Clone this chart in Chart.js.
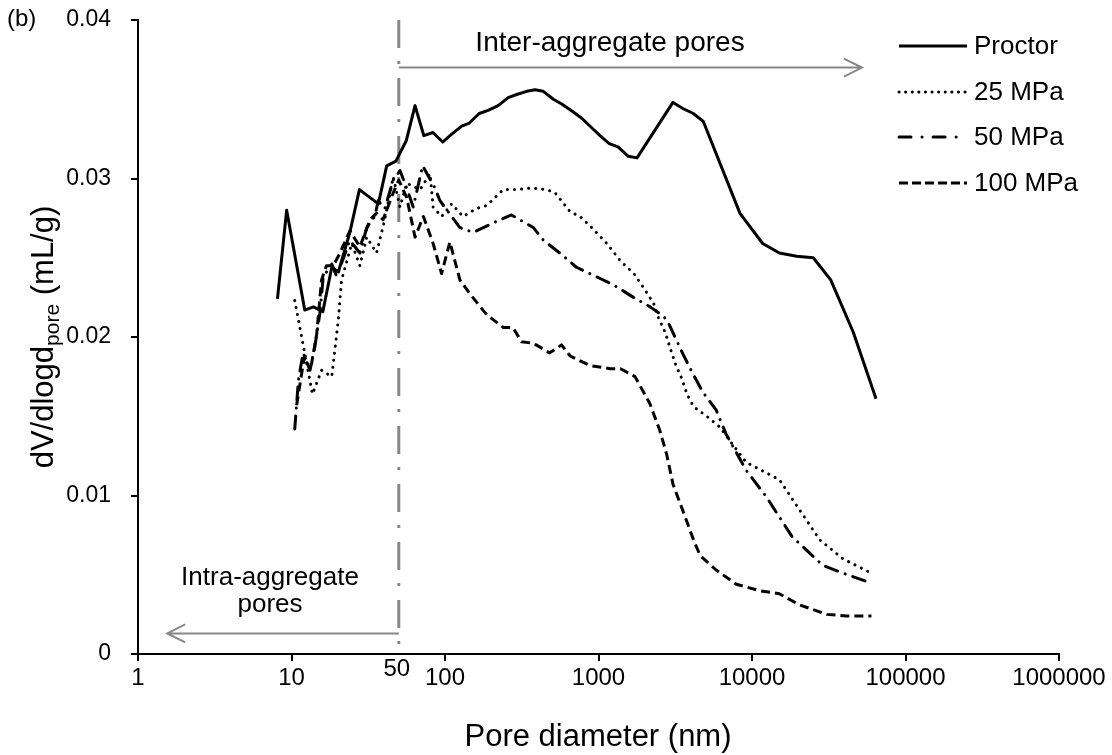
<!DOCTYPE html>
<html>
<head>
<meta charset="utf-8">
<script src="https://cdn.jsdelivr.net/npm/chart.js@4.4.1/dist/chart.umd.min.js"></script>
<style>
  body { margin: 0; background: #fff; }
  #wrap { width: 1112px; height: 755px; }
</style>
</head>
<body>
<div id="wrap"><canvas id="poreChart" width="1112" height="755"></canvas></div>
<script>
const seriesNames = ['Proctor', '25 MPa', '50 MPa', '100 MPa'];

const proctorX = [8.1, 9.3, 12.2, 13.9, 16.0, 18.3, 20.2, 24.0, 27.7, 36.8, 41.7, 47.9, 56.0, 63.8, 72.8, 83.5, 96.6, 110.6, 128.5, 144, 167, 191, 222, 258, 293, 341, 386, 437, 508, 576, 685, 778, 903, 1023, 1175, 1340, 1564, 1782, 3055, 3568, 4145, 4818, 8350, 11740, 15070, 19550, 25070, 32570, 45700, 64270];
const proctorY = [0.0224, 0.0280, 0.0217, 0.0219, 0.0216, 0.0244, 0.0241, 0.0266, 0.0293, 0.0284, 0.0308, 0.0311, 0.0324, 0.0346, 0.0327, 0.0329, 0.0323, 0.0328, 0.0333, 0.0335, 0.0341, 0.0343, 0.0346, 0.0351, 0.0353, 0.0355, 0.0356, 0.0355, 0.0350, 0.0347, 0.0342, 0.0338, 0.0332, 0.0327, 0.0322, 0.0320, 0.0314, 0.0313, 0.0348, 0.0344, 0.0341, 0.0336, 0.0278, 0.0259, 0.0253, 0.0251, 0.0250, 0.0236, 0.0203, 0.0161];

const mpa25X = [10.5, 13.7, 15.7, 18.3, 20.2, 21.2, 24.7, 27.9, 30.9, 35.8, 40.5, 46, 50.9, 56.3, 68.8, 79.9, 83.7, 95, 110.6, 131, 160, 187, 240, 293, 367, 459, 521, 654, 760, 925, 1133, 1390, 1700, 2000, 2290, 2460, 2720, 2930, 3170, 3480, 3770, 4160, 5070, 6200, 7240, 9150, 15060, 20380, 27630, 39200, 60000];
const mpa25Y = [0.0223, 0.0164, 0.0179, 0.0175, 0.0211, 0.0236, 0.0259, 0.0245, 0.0263, 0.0253, 0.0274, 0.0301, 0.0282, 0.0297, 0.0293, 0.0303, 0.0282, 0.0276, 0.0284, 0.0276, 0.0281, 0.0283, 0.0293, 0.0293, 0.0294, 0.0293, 0.0291, 0.0279, 0.0276, 0.0268, 0.0259, 0.0248, 0.0240, 0.0230, 0.0221, 0.0212, 0.0203, 0.0193, 0.0183, 0.0174, 0.0164, 0.0156, 0.0150, 0.0143, 0.0134, 0.0121, 0.0110, 0.0091, 0.0072, 0.0060, 0.0051];

const mpa50X = [10.5, 11.1, 11.9, 13.2, 14.2, 15.3, 16.1, 18.3, 19.7, 24, 27.9, 30.9, 34.9, 36.7, 40.5, 46, 50.9, 56.3, 62.1, 71.5, 86, 92.7, 125, 153, 217, 271, 377, 438, 559, 718, 972, 1247, 1690, 2170, 2660, 2850, 3560, 4160, 4800, 5840, 6760, 9150, 12430, 18250, 28900, 39200, 58700];
const mpa50Y = [0.0142, 0.0173, 0.0190, 0.0179, 0.0194, 0.0215, 0.0238, 0.0246, 0.0238, 0.0261, 0.0253, 0.0269, 0.0276, 0.0286, 0.0281, 0.0299, 0.0305, 0.0294, 0.0282, 0.0308, 0.0294, 0.0286, 0.0269, 0.0266, 0.0273, 0.0277, 0.0269, 0.0261, 0.0253, 0.0244, 0.0238, 0.0233, 0.0225, 0.0219, 0.0213, 0.0209, 0.0189, 0.0176, 0.0165, 0.0154, 0.0139, 0.0116, 0.0099, 0.0074, 0.0056, 0.0051, 0.0045];

const mpa100X = [10.8, 12.1, 13.5, 14.6, 15.7, 16.9, 18.7, 20.7, 24, 27.9, 32.5, 35.8, 39.5, 46, 50, 56.3, 63.8, 72.3, 83.7, 95, 107.6, 125, 146, 187, 240, 277, 315, 377, 481, 574, 654, 879, 1190, 1390, 1730, 2160, 2510, 2780, 3060, 3590, 4160, 4600, 5840, 7900, 11150, 15060, 20380, 30700, 41300, 60000];
const mpa100Y = [0.0157, 0.0187, 0.0183, 0.0202, 0.0236, 0.0245, 0.0245, 0.0253, 0.0267, 0.0257, 0.0274, 0.0278, 0.0274, 0.0291, 0.0299, 0.0288, 0.0263, 0.0276, 0.0259, 0.0240, 0.0260, 0.0236, 0.0227, 0.0214, 0.0206, 0.0206, 0.0197, 0.0196, 0.0190, 0.0195, 0.0188, 0.0182, 0.0180, 0.0180, 0.0175, 0.0158, 0.0141, 0.0126, 0.0107, 0.0089, 0.0072, 0.0062, 0.0053, 0.0044, 0.0040, 0.0038, 0.0031, 0.0025, 0.0024, 0.0024];

const xTickValues = [1, 10, 100, 1000, 10000, 100000, 1000000];
const yTickValues = [0, 0.01, 0.02, 0.03, 0.04];
const yTickLabels = ['0', '0.01', '0.02', '0.03', '0.04'];

const FONT = '"Liberation Sans", Arial, sans-serif';
const GREY = '#878787';

const lineStyles = [
  { dash: [], cap: 'butt', legendDash: [] },
  { dash: [0.1, 7], cap: 'round', legendDash: [0.1, 6.5] },
  { dash: [13, 8, 0.1, 8], cap: 'round', legendDash: [12, 11, 0.1, 11] },
  { dash: [9, 5], cap: 'butt', legendDash: [9, 4] }
];

const toPoints = (xs, ys) => xs.map((x, i) => ({ x: x, y: ys[i] }));
const seriesData = [
  toPoints(proctorX, proctorY),
  toPoints(mpa25X, mpa25Y),
  toPoints(mpa50X, mpa50Y),
  toPoints(mpa100X, mpa100Y)
];

function arrow(ctx, x1, x2, y) {
  const dir = x2 > x1 ? 1 : -1;
  ctx.save();
  ctx.strokeStyle = GREY;
  ctx.lineWidth = 2;
  ctx.beginPath();
  ctx.moveTo(x1, y);
  ctx.lineTo(x2, y);
  ctx.moveTo(x2 - dir * 18, y - 9);
  ctx.lineTo(x2, y);
  ctx.lineTo(x2 - dir * 18, y + 9);
  ctx.stroke();
  ctx.restore();
}

const annotations = {
  id: 'annotations',
  beforeDatasetsDraw(chart) {
    const ctx = chart.ctx;
    const xs = chart.scales.x;
    const area = chart.chartArea;
    const x50 = xs.getPixelForValue(50);
    ctx.save();
    ctx.strokeStyle = GREY;
    ctx.lineWidth = 3;
    ctx.setLineDash([28, 13, 3, 14]);
    ctx.beginPath();
    ctx.moveTo(x50, area.top);
    ctx.lineTo(x50, area.bottom);
    ctx.stroke();
    ctx.restore();
  },
  afterDraw(chart) {
    const ctx = chart.ctx;
    const xs = chart.scales.x;
    const ys = chart.scales.y;
    const area = chart.chartArea;
    const x50 = xs.getPixelForValue(50);

    ctx.save();
    ctx.fillStyle = '#000';
    ctx.textAlign = 'center';
    ctx.textBaseline = 'middle';

    // 50 nm label under the axis
    ctx.font = '24px ' + FONT;
    ctx.fillText('50', x50 - 2, area.bottom + 15);

    // region arrows and labels
    arrow(ctx, x50, xs.getPixelForValue(52000), ys.getPixelForValue(0.037));
    arrow(ctx, x50, xs.getPixelForValue(1.55), ys.getPixelForValue(0.0013));
    ctx.font = '28px ' + FONT;
    ctx.fillText('Inter-aggregate pores', 610, 43);
    ctx.font = '26px ' + FONT;
    ctx.fillText('Intra-aggregate', 270, 578);
    ctx.fillText('pores', 270, 605);

    // panel tag
    ctx.font = '24px ' + FONT;
    ctx.textAlign = 'left';
    ctx.fillText('(b)', 7, 19);

    // x title
    ctx.textAlign = 'center';
    ctx.font = '31px ' + FONT;
    ctx.fillText('Pore diameter (nm)', 598, 737);

    // y title with subscript
    ctx.save();
    ctx.translate(44, (area.top + area.bottom) / 2);
    ctx.rotate(-Math.PI / 2);
    const big = '31px ' + FONT, small = '21px ' + FONT;
    ctx.font = big;
    const w1 = ctx.measureText('dV/dlogd').width;
    const w3 = ctx.measureText(' (mL/g)').width;
    ctx.font = small;
    const w2 = ctx.measureText('pore').width;
    let x = -(w1 + w2 + w3) / 2;
    ctx.textAlign = 'left';
    ctx.font = big;
    ctx.fillText('dV/dlogd', x, 0);
    x += w1;
    ctx.font = small;
    ctx.fillText('pore', x, 9);
    x += w2;
    ctx.font = big;
    ctx.fillText(' (mL/g)', x, 0);
    ctx.restore();

    // legend
    const rows = [46, 92, 137, 183];
    ctx.font = '26px ' + FONT;
    ctx.textAlign = 'left';
    seriesNames.forEach((name, i) => {
      ctx.save();
      ctx.strokeStyle = '#000';
      ctx.lineWidth = 3;
      ctx.lineCap = lineStyles[i].cap;
      ctx.setLineDash(lineStyles[i].legendDash);
      ctx.beginPath();
      ctx.moveTo(899, rows[i]);
      ctx.lineTo(967, rows[i]);
      ctx.stroke();
      ctx.restore();
      ctx.fillText(name, 974, rows[i] + 1);
    });
    ctx.restore();
  }
};

const ctx = document.getElementById('poreChart').getContext('2d');

const poreChart = new Chart(ctx, {
  type: 'line',
  data: {
    datasets: seriesNames.map((name, i) => ({
      label: name,
      data: seriesData[i],
      borderColor: '#000',
      borderWidth: 3,
      borderDash: lineStyles[i].dash,
      borderCapStyle: lineStyles[i].cap,
      borderJoinStyle: 'round',
      pointRadius: 0,
      tension: 0,
      fill: false
    }))
  },
  options: {
    responsive: false,
    animation: false,
    devicePixelRatio: 1,
    layout: { padding: { top: 20, right: 53, left: 0, bottom: 0 } },
    plugins: {
      legend: { display: false },
      tooltip: { enabled: false }
    },
    scales: {
      x: {
        type: 'logarithmic',
        min: 1,
        max: 1000000,
        afterBuildTicks: (axis) => { axis.ticks = xTickValues.map(v => ({ value: v })); },
        afterFit: (scale) => { scale.height = 101; },
        ticks: {
          callback: (value) => String(value),
          color: '#000',
          font: { family: FONT, size: 24 },
          padding: 3,
          maxRotation: 0,
          autoSkip: false
        },
        grid: { drawOnChartArea: false, tickLength: 7, color: '#000', lineWidth: 2 },
        border: { color: '#000', width: 2 }
      },
      y: {
        min: 0,
        max: 0.04,
        afterBuildTicks: (axis) => { axis.ticks = yTickValues.map(v => ({ value: v })); },
        afterFit: (scale) => {
          scale.width = 138;
          // the tick padding would otherwise push the plot top down
          scale.paddingTop = 0;
          scale.paddingBottom = 0;
        },
        ticks: {
          callback: (value, index) => yTickLabels[index],
          color: '#000',
          font: { family: FONT, size: 23 },
          padding: 20
        },
        grid: { drawOnChartArea: false, tickLength: 7, color: '#000', lineWidth: 2 },
        border: { color: '#000', width: 2 }
      }
    }
  },
  plugins: [annotations]
});
</script>
</body>
</html>
